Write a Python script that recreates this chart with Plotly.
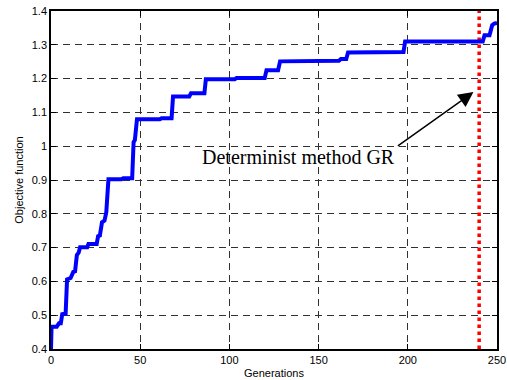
import plotly.graph_objects as go

# Data
generations = [0, 0.3, 3.2, 4.5, 5.5, 6.3, 8.2, 9.0, 11, 12.5, 13.5, 14.5, 15.5, 16.3,
               20.3, 21, 25.6, 26.4, 27.4, 28.6, 30, 31, 32.2, 39.5, 40.5, 45.5, 46.3,
               47.0, 48.2, 61, 62, 67.6, 68.4, 77.5, 78.5, 86.0, 86.8, 103, 104, 119.8,
               120.8, 127.3, 128.4, 154.4, 155.5, 161.4, 162.5, 165.5, 166.5, 197.6,
               198.5, 242, 243, 245.8, 247.3, 248.5, 250]
objective = [0.40, 0.466, 0.466, 0.476, 0.476, 0.503, 0.505, 0.606, 0.610, 0.628, 0.630,
             0.678, 0.685, 0.701, 0.701, 0.711, 0.711, 0.734, 0.736, 0.775, 0.780, 0.805,
             0.902, 0.902, 0.905, 0.905, 1.012, 1.018, 1.080, 1.080, 1.083, 1.083, 1.147,
             1.147, 1.157, 1.157, 1.198, 1.198, 1.202, 1.202, 1.225, 1.225, 1.251, 1.251,
             1.253, 1.253, 1.258, 1.258, 1.277, 1.279, 1.310, 1.310, 1.328, 1.328, 1.358,
             1.363, 1.365]

gr_generation = [240, 240]
gr_range = [0.4, 1.4]

x_ticks = [0, 50, 100, 150, 200, 250]
y_ticks = [0.4, 0.5, 0.6, 0.7, 0.8, 0.9, 1.0, 1.1, 1.2, 1.3, 1.4]
y_ticktext = ["0.4", "0.5", "0.6", "0.7", "0.8", "0.9", "1", "1.1", "1.2", "1.3", "1.4"]

label_text = "Determinist method GR"
label_pos = (83.4, 0.967)
arrow_tail = (193.6, 0.998)
arrow_head = (236.8, 1.16)

fig = go.Figure()
fig.add_trace(go.Scatter(x=gr_generation, y=gr_range, mode="lines",
                         line=dict(color="#ff0000", width=3.5, dash="dot"),
                         showlegend=False, hoverinfo="skip"))
fig.add_trace(go.Scatter(x=generations, y=objective, mode="lines",
                         line=dict(color="#0000ff", width=4),
                         showlegend=False))

fig.add_annotation(x=label_pos[0], y=label_pos[1], xref="x", yref="y",
                   text=label_text, showarrow=False, xanchor="left", yanchor="middle",
                   font=dict(family="Liberation Serif, Times New Roman, serif", size=20, color="black"))
fig.add_annotation(x=arrow_head[0], y=arrow_head[1], ax=arrow_tail[0], ay=arrow_tail[1],
                   xref="x", yref="y", axref="x", ayref="y", text="",
                   showarrow=True, arrowhead=2, arrowsize=2, arrowwidth=1.5,
                   arrowcolor="black", standoff=0, startstandoff=0)

axis_common = dict(showline=True, linecolor="black", linewidth=1.5, mirror="ticks",
                   ticks="inside", ticklen=5, tickcolor="black", tickwidth=1,
                   showgrid=True, gridcolor="#303030", gridwidth=1, griddash="7px,5px",
                   zeroline=False, automargin=False,
                   tickfont=dict(family="Liberation Sans, Arial, sans-serif", size=11, color="black"))

fig.update_xaxes(range=[0, 250], tickvals=x_ticks,
                 title=dict(text="Generations", standoff=4,
                            font=dict(family="Liberation Sans, Arial, sans-serif", size=11, color="black")),
                 **axis_common)
fig.update_yaxes(range=[0.4, 1.4], tickvals=y_ticks, ticktext=y_ticktext,
                 title=dict(text="Objective function", standoff=6,
                            font=dict(family="Liberation Sans, Arial, sans-serif", size=11, color="black")),
                 **axis_common)

fig.update_layout(width=507, height=380, margin=dict(l=51, r=10, t=11, b=31),
                  plot_bgcolor="white", paper_bgcolor="white")

fig.write_html("out.html")
